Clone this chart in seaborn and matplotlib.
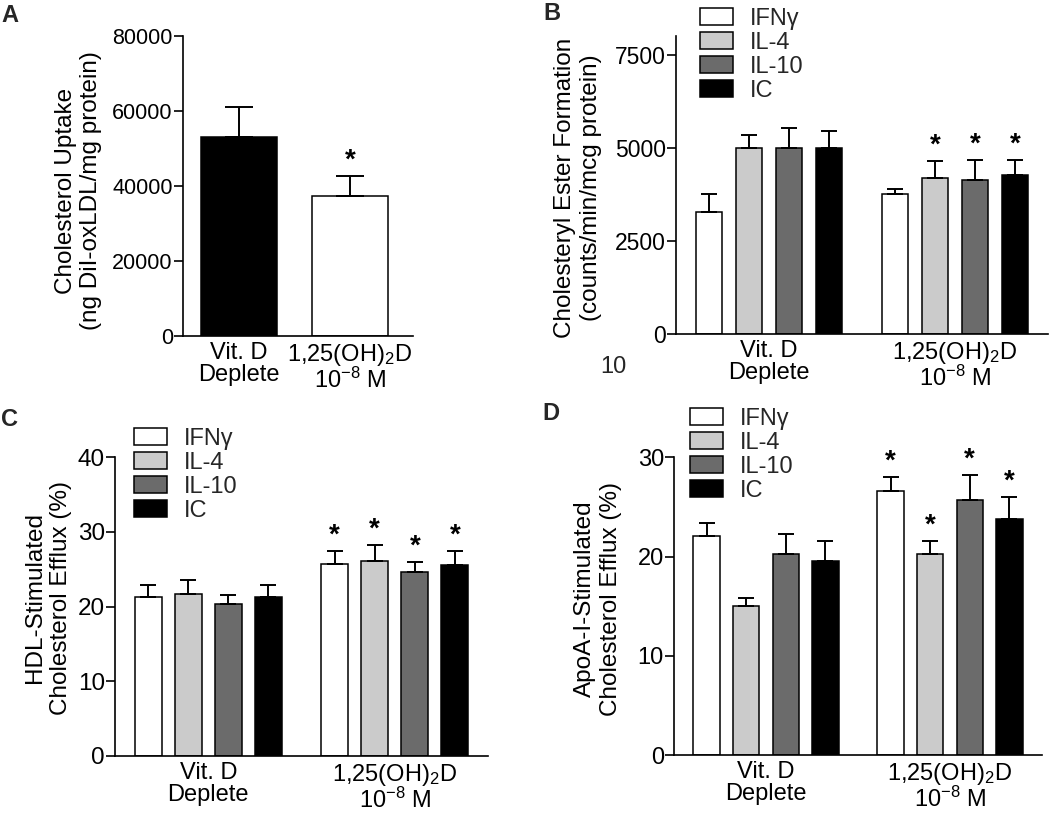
import matplotlib
matplotlib.use("Agg")
import matplotlib.pyplot as plt
import seaborn as sns
import pandas as pd
import numpy as np
from matplotlib.patches import Patch

# ---------------- data ----------------
conditions = ["Vit. D\nDeplete", "1,25(OH)$_2$D\n10$^{-8}$ M"]
cytokines = ["IFNγ", "IL-4", "IL-10", "IC"]
cyto_colors = ["#ffffff", "#cbcbcb", "#6b6b6b", "#000000"]

# Panel A
a_means = [53000, 37400]
a_sem = [8000, 5400]
a_sig = [False, True]
a_colors = ["#000000", "#ffffff"]

# Panel B  (values per cytokine: [Vit D deplete, 1,25(OH)2D])
b_means = {"IFNγ": [3270, 3760], "IL-4": [5000, 4200], "IL-10": [5000, 4150], "IC": [5000, 4280]}
b_sem = {"IFNγ": [480, 125], "IL-4": [340, 440], "IL-10": [545, 520], "IC": [455, 390]}
b_sig = {"IFNγ": [False, False], "IL-4": [False, True], "IL-10": [False, True], "IC": [False, True]}

# Panel C
c_means = {"IFNγ": [21.3, 25.7], "IL-4": [21.7, 26.1], "IL-10": [20.4, 24.7], "IC": [21.25, 25.6]}
c_sem = {"IFNγ": [1.6, 1.75], "IL-4": [1.9, 2.2], "IL-10": [1.1, 1.3], "IC": [1.6, 1.8]}
c_sig = {"IFNγ": [False, True], "IL-4": [False, True], "IL-10": [False, True], "IC": [False, True]}

# Panel D
d_means = {"IFNγ": [22.1, 26.6], "IL-4": [15.0, 20.3], "IL-10": [20.3, 25.7], "IC": [19.6, 23.8]}
d_sem = {"IFNγ": [1.3, 1.4], "IL-4": [0.8, 1.3], "IL-10": [2.0, 2.5], "IC": [1.95, 2.2]}
d_sig = {"IFNγ": [False, True], "IL-4": [False, True], "IL-10": [False, True], "IC": [False, True]}

# ---------------- style ----------------
sns.set_theme(style="ticks")
plt.rcParams["font.family"] = ["Liberation Sans", "DejaVu Sans"]
plt.rcParams["mathtext.default"] = "regular"
plt.rcParams["axes.linewidth"] = 1.2

W, H = 1050, 814
fig = plt.figure(figsize=(W / 100, H / 100), dpi=100)


def add_axes(left, top, right, bottom):
    return fig.add_axes([left / W, 1 - bottom / H, (right - left) / W, (bottom - top) / H])


def style_axes(ax, ylim, yticks, tick_fs):
    sns.despine(ax=ax)
    ax.set_ylim(*ylim)
    ax.set_yticks(yticks)
    ax.tick_params(axis="y", length=6.5, width=1.2, pad=0.8, labelsize=tick_fs, colors="black")
    ax.tick_params(axis="x", length=0, pad=4, labelsize=17, colors="black")
    for lab in ax.get_xticklabels():
        lab.set_linespacing(1.0)
    ax.set_xlabel("")
    for s in ["left", "bottom"]:
        ax.spines[s].set_color("black")
        ax.spines[s].set_linewidth(1.2)


def set_ylab(ax, text, xc, yc):
    ax.set_ylabel(text, fontsize=17.5, color="black", linespacing=1.2)
    ax.yaxis.label.set_va("center")
    ax.yaxis.label.set_ha("center")
    ax.yaxis.set_label_coords(xc, yc)


def errs_and_stars(ax, means, sems, sigs, capsize):
    bars = [p for p in ax.patches if p.get_width() > 0]
    bars.sort(key=lambda p: p.get_x())
    xs = [p.get_x() + p.get_width() / 2 for p in bars]
    ax.errorbar(xs, means, yerr=[np.zeros(len(means)), sems], fmt="none", ecolor="black",
                elinewidth=1.4, capsize=capsize, capthick=1.4, zorder=3)
    for x, m, s, sig in zip(xs, means, sems, sigs):
        if sig:
            ax.annotate("*", xy=(x, m + s), xytext=(0, 6), textcoords="offset points",
                        ha="center", va="baseline", fontsize=20, fontweight="bold", color="black")


def grouped_panel(ax, means, sems, sigs):
    rows = []
    for ci, cond in enumerate(conditions):
        for cy in cytokines:
            rows.append({"cond": cond, "cyt": cy, "val": means[cy][ci],
                         "sem": sems[cy][ci], "sig": sigs[cy][ci]})
    df = pd.DataFrame(rows)
    sns.barplot(data=df, x="cond", y="val", hue="cyt", hue_order=cytokines,
                palette=cyto_colors, edgecolor="black", linewidth=1.1, width=0.86,
                gap=0.33, errorbar=None, legend=False, ax=ax, saturation=1)
    errs_and_stars(ax, df["val"].values, df["sem"].values, df["sig"].values, 5.8)
    ax.set_xlim(-0.5, 1.5)


def add_legend(ax, x, y):
    handles = [Patch(facecolor=c, edgecolor="black", linewidth=1.1) for c in cyto_colors]
    ax.legend(handles, cytokines, loc="upper left", bbox_to_anchor=(x / W, 1 - y / H),
              bbox_transform=fig.transFigure, frameon=False, fontsize=17,
              handlelength=1.4, handleheight=0.72, handletextpad=0.7,
              labelspacing=0.08, borderpad=0, borderaxespad=0)


# ---------------- Panel A ----------------
axA = add_axes(183, 36, 413, 336)
dfA = pd.DataFrame({"cond": conditions, "val": a_means})
sns.barplot(data=dfA, x="cond", y="val", hue="cond", palette=a_colors, edgecolor="black",
            linewidth=1.1, width=0.685, errorbar=None, legend=False, ax=axA, saturation=1)
errs_and_stars(axA, a_means, a_sem, a_sig, 10)
axA.set_xlim(-0.505, 1.57)
style_axes(axA, (0, 80000), [0, 20000, 40000, 60000, 80000], 15.5)
set_ylab(axA, "Cholesterol Uptake\n(ng DiI-oxLDL/mg protein)", -0.454, 0.485)

# ---------------- Panel B ----------------
axB = add_axes(676, 36, 1048, 334.3)
grouped_panel(axB, b_means, b_sem, b_sig)
style_axes(axB, (0, 8000), [0, 2500, 5000, 7500], 16.5)
set_ylab(axB, "Cholesteryl Ester Formation\n(counts/min/mcg protein)", -0.2634, 0.49)
add_legend(axB, 700, 8)

# ---------------- Panel C ----------------
axC = add_axes(115, 457.3, 488, 756)
grouped_panel(axC, c_means, c_sem, c_sig)
style_axes(axC, (0, 40), [0, 10, 20, 30, 40], 17.5)
set_ylab(axC, "HDL-Stimulated\nCholesterol Efflux (%)", -0.1796, 0.53)
add_legend(axC, 134, 428)

# ---------------- Panel D ----------------
axD = add_axes(674, 457.3, 1042, 755.3)
grouped_panel(axD, d_means, d_sem, d_sig)
style_axes(axD, (0, 30), [0, 10, 20, 30], 17)
set_ylab(axD, "ApoA-I-Stimulated\nCholesterol Efflux (%)", -0.2065, 0.524)
add_legend(axD, 690, 408)

# ---------------- panel letters and stray text ----------------
for letter, x, y in [("A", 1, 4), ("B", 543, 2), ("C", 1, 408), ("D", 542, 402)]:
    fig.text(x / W, 1 - y / H, letter, fontsize=17, fontweight="bold", ha="left", va="top")
fig.text(613 / W, 1 - 367 / H, "10", fontsize=17, ha="center", va="center")

fig.savefig("out.png", dpi=100, facecolor="white")
